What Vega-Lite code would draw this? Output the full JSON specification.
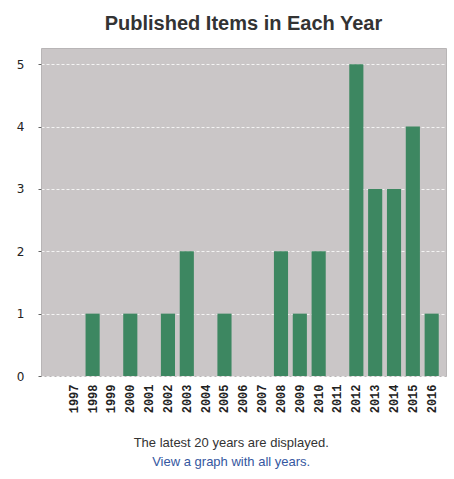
{
  "$schema": "https://vega.github.io/schema/vega-lite/v6.json",
  "padding": {"left": 15, "top": 13, "right": 1, "bottom": 5},
  "background": "#ffffff",
  "title": {
    "text": "The latest 20 years are displayed.",
    "subtitle": "View a graph with all years.",
    "orient": "bottom",
    "anchor": "middle",
    "font": "Liberation Sans",
    "fontSize": 13,
    "fontWeight": "normal",
    "color": "#333333",
    "subtitleFont": "Liberation Sans",
    "subtitleFontSize": 13,
    "subtitleColor": "#3557a0",
    "subtitlePadding": 6,
    "offset": 24
  },
  "vconcat": [
    {
      "title": {
        "text": "Published Items in Each Year",
        "font": "Liberation Sans",
        "fontSize": 20,
        "fontWeight": "bold",
        "color": "#333333",
        "anchor": "middle",
        "offset": 14
      },
      "width": 405,
      "height": 328,
      "data": {
        "values": [
          {"year": "1997", "count": 0},
          {"year": "1998", "count": 1},
          {"year": "1999", "count": 0},
          {"year": "2000", "count": 1},
          {"year": "2001", "count": 0},
          {"year": "2002", "count": 1},
          {"year": "2003", "count": 2},
          {"year": "2004", "count": 0},
          {"year": "2005", "count": 1},
          {"year": "2006", "count": 0},
          {"year": "2007", "count": 0},
          {"year": "2008", "count": 2},
          {"year": "2009", "count": 1},
          {"year": "2010", "count": 2},
          {"year": "2011", "count": 0},
          {"year": "2012", "count": 5},
          {"year": "2013", "count": 3},
          {"year": "2014", "count": 3},
          {"year": "2015", "count": 4},
          {"year": "2016", "count": 1}
        ]
      },
      "mark": {"type": "bar", "color": "#3d8761"},
      "encoding": {
        "x": {
          "field": "year",
          "type": "ordinal",
          "scale": {"paddingInner": 0.25, "paddingOuter": 0.875, "align": 0.78},
          "axis": {
            "title": null,
            "labelAngle": -90,
            "labelFont": "Liberation Mono",
            "labelFontWeight": "bold",
            "labelFontSize": 12,
            "labelColor": "#222222",
            "ticks": false,
            "domain": false,
            "labelPadding": 8
          }
        },
        "y": {
          "field": "count",
          "type": "quantitative",
          "scale": {"domain": [0, 5.26], "nice": false},
          "axis": {
            "title": null,
            "values": [0, 1, 2, 3, 4, 5],
            "labelFont": "DejaVu Sans",
            "labelFontSize": 12,
            "labelColor": "#222222",
            "domain": false,
            "tickSize": 3,
            "tickColor": "#666666",
            "labelPadding": 14,
            "gridColor": "#ffffff",
            "gridDash": [3, 2],
            "gridOpacity": 0.8
          }
        }
      }
    }
  ],
  "config": {
    "view": {"fill": "#cac6c7", "stroke": "#b8b5b6"}
  }
}
